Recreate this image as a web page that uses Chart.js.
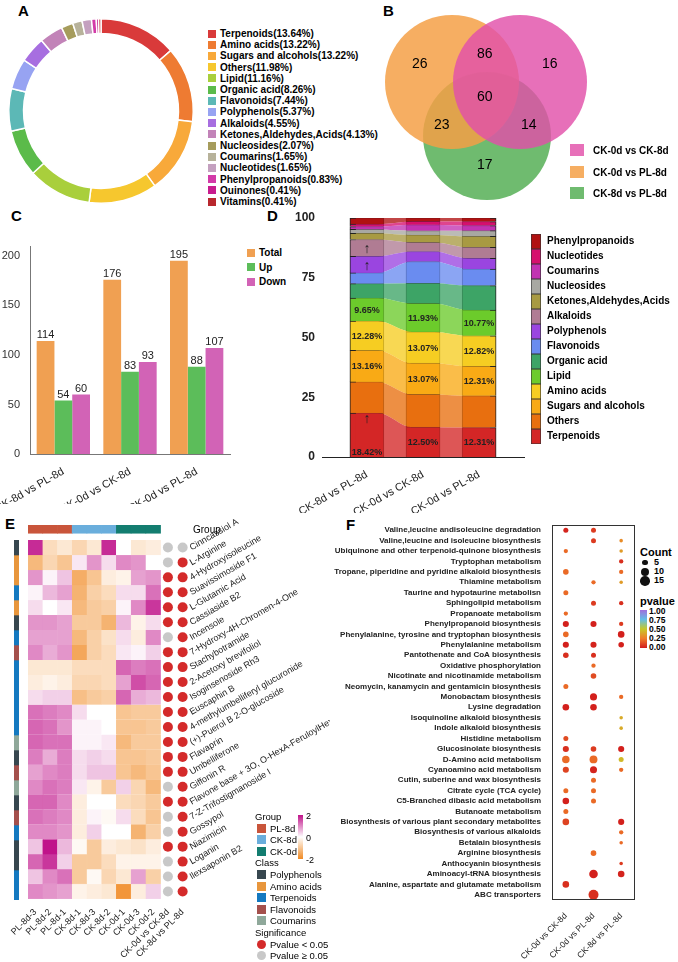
<!DOCTYPE html>
<html><head><meta charset="utf-8">
<script src="https://cdn.jsdelivr.net/npm/chart.js@4"></script>
<style>
body{margin:0;background:#fff;font-family:"Liberation Sans",Arial,sans-serif;}
#wrap{position:relative;width:678px;height:962px;overflow:hidden;}
canvas,.abs{position:absolute;}
.pl{position:absolute;font-weight:bold;font-size:15px;}
.lg{position:absolute;font-size:10px;font-weight:bold;line-height:11.2px;white-space:nowrap;}
.lg span{display:inline-block;width:8px;height:8px;margin-right:4px;vertical-align:-0.5px;}
.vn{position:absolute;font-size:14px;}
</style></head><body><div id="wrap">
<div class="pl" style="left:18px;top:2px">A</div>
<div class="pl" style="left:383px;top:2px">B</div>
<div class="pl" style="left:11px;top:207px">C</div>
<div class="pl" style="left:267px;top:207px">D</div>
<div class="pl" style="left:5px;top:515px">E</div>
<div class="pl" style="left:346px;top:516px">F</div>

<canvas id="donut" width="190" height="190" style="left:6px;top:16px"></canvas>
<div id="legA" class="lg" style="left:208px;top:28px"></div>

<canvas id="venn" width="220" height="210" style="left:380px;top:0"></canvas>
<div id="vennNums"></div>
<div id="legB" class="lg" style="left:570px;top:140px;font-size:10px;line-height:21.5px"></div>

<canvas id="barC" width="232" height="268" style="left:0;top:236px"></canvas>
<div id="legC" class="lg" style="left:247px;top:246px;line-height:14.5px;font-size:10px"></div>

<canvas id="areaD" width="236" height="305" style="left:290px;top:208px"></canvas>
<div id="legD" class="abs" style="left:531px;top:234px"></div>

<canvas id="heatE" width="330" height="447" style="left:0;top:515px"></canvas>
<canvas id="classE" width="5" height="360" style="left:14px;top:540px"></canvas>
<div class="lg" style="left:193px;top:524px;font-size:10px;font-weight:normal">Group</div>
<div id="legE" class="abs" style="left:255px;top:811px;font-size:9.5px;line-height:11.6px"></div>

<canvas id="dotF" width="340" height="447" style="left:300px;top:515px"></canvas>
<div id="legF" class="abs" style="left:640px;top:546px;font-size:9px;font-weight:bold"></div>
</div>
<script>
// ---- A: class composition
const classNames = ['Terpenoids','Amino acids','Sugars and alcohols','Others','Lipid','Organic acid','Flavonoids','Polyphenols','Alkaloids','Ketones,Aldehydes,Acids','Nucleosides','Coumarins','Nucleotides','Phenylpropanoids','Ouinones','Vitamins'];
const classPct = [13.64,13.22,13.22,11.98,11.16,8.26,7.44,5.37,4.55,4.13,2.07,1.65,1.65,0.83,0.41,0.41];
const classColors = ['#d93a3a','#ee7b32','#f8a93a','#f6c72e','#a9cf3c','#5bbb4a','#5cb8b6','#97a3f2','#a76ee0','#c283b8','#a69c5c','#b7b29a','#c4a0bf','#d33aa8','#c81c8e','#b8282e'];

// ---- B: venn
const vennSets = ['CK-0d vs CK-8d','CK-0d vs PL-8d','CK-8d vs PL-8d'];
const vennColors = ['rgba(226,80,170,0.82)','rgba(245,160,70,0.85)','rgba(95,180,95,0.9)'];
const vennRegions = ['26','86','16','60','23','14','17'];

// ---- C: DEM counts
const compLabels = ['CK-8d vs PL-8d','CK-0d vs CK-8d','CK-0d vs PL-8d'];
const totalCounts = [114,176,195];
const upCounts = [54,83,88];
const downCounts = [60,93,107];

// ---- D: class percentage per comparison (bottom to top)
const dClasses = ['Terpenoids','Others','Sugars and alcohols','Amino acids','Lipid','Organic acid','Flavonoids','Polyphenols','Alkaloids','Ketones,Aldehydes,Acids','Nucleosides','Coumarins','Nucleotides','Phenylpropanoids'];
const dColors = ['#d42626','#e8700f','#f8aa16','#f6cd22','#6ccb2c','#3da466','#6a8cf0','#9a45e0','#b07c94','#a89a42','#a8a8a2','#c233b2','#d6106e','#b01212'];
const dComp1 = [18.42,13.0,13.16,12.28,9.65,6.0,4.5,7.0,7.0,2.6,1.6,1.2,1.0,2.59];
const dComp2 = [12.5,13.7,13.07,13.07,11.93,8.4,9.1,4.2,3.8,3.1,1.8,2.5,1.4,1.43];
const dComp3 = [12.31,13.3,12.31,12.82,10.77,10.2,6.9,4.5,4.6,4.6,2.4,2.1,1.7,1.49];
const dLabels1 = ['↑\n18.42%',null,'13.16%','12.28%','9.65%',null,null,'↑','↑',null,null,null,null,null];
const dLabels2 = ['12.50%',null,'13.07%','13.07%','11.93%',null,null,null,null,null,null,null,null,null];
const dLabels3 = ['12.31%',null,'12.31%','12.82%','10.77%',null,null,null,null,null,null,null,null,null];

// ---- E: heatmap (z-score)
const sampleLabels = ['PL-8d-3','PL-8d-2','PL-8d-1','CK-8d-1','CK-8d-3','CK-8d-2','CK-0d-1','CK-0d-3','CK-0d-2'];
const sigLabels = ['CK-0d vs CK-8d','CK-8d vs PL-8d'];
const metabolites = ['Cinncassiol A','L-Arginine','4-Hydroxyisoleucine','Suavissimoside F1','L-Glutamic Acid','Cassiaside B2','Incensole','7-Hydroxy-4H-Chromen-4-One','Stachybotramide','2-Acetoxy brevifoliol','Isoginsenoside Rh3','Euscaphin B','4-methylumbelliferyl glucuronide','(+)-Puerol B 2-O-glucoside','Flavaprin','Umbelliferone','Giffonin R','Flavone base + 3O, O-HexA-FeruloylHexA','7-Z-Trifostigmanoside I','Gossypol','Niazimicin','Loganin','Ilexsaponin B2'];
const heatRows = [
 [1.8,-0.6,-0.4,-0.7,-0.4,1.8,0,-0.4,-0.3],
 [-1.2,-0.7,-1.0,0.2,0.9,0.3,1.0,0.9,0],
 [0.9,0.1,0.5,-1.4,-1.0,-0.3,-0.2,0.8,0.9],
 [0.1,0.6,0.8,-1.3,-0.8,-0.6,0.3,0.3,1.2],
 [0.3,0.0,0.2,-1.2,-0.9,-0.8,0.1,1.0,1.7],
 [0.9,0.9,0.8,-0.9,-0.9,-1.3,0.6,-0.2,0.3],
 [0.8,0.8,0.8,-1.2,-0.8,-0.5,0.3,-0.3,1.0],
 [1.0,0.7,0.9,-1.5,-0.8,-0.6,0.2,0.1,0.4],
 [-0.4,-0.4,-0.4,-0.6,-0.6,-0.6,1.3,1.1,1.2],
 [-0.3,-0.2,-0.3,-0.7,-0.7,-0.6,0.8,1.5,1.3],
 [0.3,0.4,0.4,-1.1,-0.9,-0.8,1.3,0.7,0.6],
 [1.2,1.1,1.0,0.3,0,0,-1.0,-0.9,-0.9],
 [1.3,1.2,0.9,0.1,0.1,0,-1.0,-1.0,-0.9],
 [1.3,1.2,1.2,0.1,0.1,0.2,-1.2,-0.9,-0.9],
 [1.1,0.7,1.1,0.3,0.4,0.3,-1.0,-1.0,-0.9],
 [0.8,1.0,1.1,0.3,0.5,0.5,-1.0,-1.2,-1.0],
 [1.0,1.2,1.1,0.2,-0.2,-0.9,0.4,-0.7,-1.2],
 [1.3,1.3,1.0,-0.3,0,0,-0.6,-0.7,-0.9],
 [1.2,1.1,1.0,-0.3,0.1,-0.1,0.3,-0.6,-1.0],
 [1.0,1.0,0.9,-0.3,0.4,0,0,-1.3,-0.8],
 [0.5,2.3,0.6,-0.1,-0.9,-0.3,-0.4,-0.5,-0.3],
 [1.3,1.7,0.4,-0.9,-0.9,-0.6,-0.2,-0.2,-0.2],
 [0.5,1.0,1.2,-0.9,-0.1,-0.7,-0.4,0.8,-0.8],
 [1.0,0.9,0.8,-0.2,-0.3,-0.4,-1.8,-0.3,0.4]
];
const sigCK0CK8 = [0,0,1,1,1,1,0,1,1,1,1,1,1,1,1,1,0,1,0,0,1,0,0,0];
const sigCK8PL8 = [0,1,1,1,1,1,1,1,1,1,1,1,1,1,1,1,1,1,1,1,1,1,1,1];
const groupOfSample = ['PL-8d','PL-8d','PL-8d','CK-8d','CK-8d','CK-8d','CK-0d','CK-0d','CK-0d'];
const groupColors = {'PL-8d':'#c9553b','CK-8d':'#6aaedc','CK-0d':'#137d70'};
const rowClass = ['Polyphenols','Amino acids','Amino acids','Terpenoids','Amino acids','Polyphenols','Terpenoids','Flavonoids','Terpenoids','Terpenoids','Terpenoids','Terpenoids','Terpenoids','Coumarins','Polyphenols','Flavonoids','Coumarins','Polyphenols','Flavonoids','Terpenoids','Polyphenols','Polyphenols','Terpenoids','Terpenoids'];
const classColorsE = {'Polyphenols':'#37474f','Amino acids':'#e8963c','Terpenoids':'#1479c0','Flavonoids':'#a4504c','Coumarins':'#8fa89a'};

// ---- F: KEGG enrichment
const fComps = ['CK-0d vs CK-8d','CK-0d vs PL-8d','CK-8d vs PL-8d'];
const pathways = ['Valine,leucine andisoleucine degradation','Valine,leucine and isoleucine biosynthesis','Ubiquinone and other terpenoid-quinone biosynthesis','Tryptophan metabolism','Tropane, piperidine and pyridine alkaloid biosynthesis','Thiamine metabolism','Taurine and hypotaurine metabolisn','Sphingolipid metabolism','Propanoate metabolism','Phenylpropanoid biosynthesis','Phenylalanine, tyrosine and tryptophan biosynthesis','Phenylalanine metabolism','Pantothenate and CoA biosynthesis','Oxidative phosphorylation','Nicotinate and nicotinamide metabolism','Neomycin, kanamycin and gentamicin biosynthesis','Monobactam biosynthesis','Lysine degradation','Isoquinoline alkaloid biosynthesis','Indole alkaloid biosynthesis','Histidine metabolism','Glucosinolate biosynthesis','D-Amino acid metabolism','Cyanoamino acid metabolism','Cutin, suberine and wax biosynthesis','Citrate cycle (TCA cycle)','C5-Branched dibasic acid metabolism','Butanoate metabolism','Biosynthesis of various plant secondary metabolites','Biosynthesis of various alkaloids','Betalain biosynthesis','Arginine biosynthesis','Anthocyanin biosynthesis','Aminoacyl-tRNA biosynthesis','Alanine, aspartate and glutamate metabolism','ABC transporters'];
const count1 = [4,null,3,null,5,null,4,null,3,6,5,6,5,null,null,4,null,7,null,null,4,6,9,6,null,4,7,4,7,null,null,null,null,null,7,null];
const count2 = [4,4,null,null,null,3,null,4,null,6,null,6,4,3,5,null,8,7,null,null,null,5,10,8,4,4,4,null,null,null,null,5,null,12,null,16];
const count3 = [null,2,2,3,3,2,null,3,null,3,7,5,null,null,null,null,3,null,2,2,null,6,4,3,null,null,null,null,6,3,2,null,2,7,null,null];
const pval1 = [0.02,null,0.2,null,0.2,null,0.2,null,0.2,0.01,0.2,0.01,0.05,null,null,0.2,null,0.01,null,null,0.12,0.05,0.2,0.1,null,0.2,0.01,0.2,0.1,null,null,null,null,null,0.05,null];
const pval2 = [0.08,0.08,null,null,null,0.2,null,0.08,null,0.01,null,0.02,0.05,0.2,0.12,null,0.01,0.01,null,null,null,0.08,0.2,0.02,0.2,0.2,0.2,null,null,null,null,0.2,null,0.01,null,0.05];
const pval3 = [null,0.3,0.35,0.05,0.2,0.35,null,0.05,null,0.08,0.01,0.01,null,null,null,null,0.2,null,0.4,0.4,null,0.01,0.45,0.2,null,null,null,null,0.01,0.2,0.2,null,0.08,0.02,null,null];

const FONT = '"Liberation Sans", Arial, sans-serif';
Chart.defaults.font.family = FONT;
Chart.defaults.color = '#222';
Chart.defaults.animation = false;
Chart.defaults.responsive = false;
Chart.defaults.plugins.legend.display = false;
Chart.defaults.plugins.tooltip.enabled = false;

function lerpColor(stops, t) {
  for (let i = 1; i < stops.length; i++) {
    if (t <= stops[i][0] || i === stops.length - 1) {
      const [t0, c0] = stops[i-1], [t1, c1] = stops[i];
      const f = Math.max(0, Math.min(1, (t - t0) / (t1 - t0)));
      const rgb = c0.map((v, k) => Math.round(v + (c1[k] - v) * f));
      return `rgb(${rgb.join(',')})`;
    }
  }
}
const heatStops = [[-2,[240,138,36]],[0,[255,255,255]],[2,[192,19,138]]];
const pStops = [[0,[210,28,28]],[0.25,[240,125,40]],[0.5,[200,200,40]],[0.75,[100,190,230]],[1,[160,110,220]]];
// rotated tick labels should not push the plot inward
const noSidePad = s => { s.paddingLeft = 0; s.paddingRight = 0; };

// ===== A
new Chart(document.getElementById('donut'), {
  type: 'doughnut',
  data: { labels: classNames, datasets: [{ data: classPct, backgroundColor: classColors, borderColor: '#fff', borderWidth: 1.5 }] },
  options: { cutout: '84%', layout: { padding: 2 } }
});
document.getElementById('legA').innerHTML = classNames.map((n, i) =>
  `<div><span style="background:${classColors[i]}"></span>${n}(${classPct[i].toFixed(2)}%)</div>`).join('');

// ===== B
new Chart(document.getElementById('venn'), {
  type: 'bubble',
  data: { datasets: [
    { data: [{x:140, y:82, r:67}], backgroundColor: vennColors[0], borderWidth: 0 },
    { data: [{x:72, y:82, r:67}], backgroundColor: vennColors[1], borderWidth: 0 },
    { data: [{x:107, y:136, r:64}], backgroundColor: vennColors[2], borderWidth: 0 }
  ]},
  options: { layout: { padding: 0, autoPadding: false }, clip: false,
    scales: { x: { display: false, min: 0, max: 220 }, y: { display: false, min: 0, max: 210, reverse: true } } }
});
const vennPos = [[412,55],[477,45],[542,55],[477,88],[434,116],[521,116],[477,156]];
document.getElementById('vennNums').innerHTML = vennRegions.map((t, i) =>
  `<div class="vn" style="left:${vennPos[i][0]}px;top:${vennPos[i][1]}px">${t}</div>`).join('');
document.getElementById('legB').innerHTML = vennSets.map((n, i) =>
  `<div><span style="width:14px;height:12px;background:${vennColors[i]};vertical-align:-2px;margin-right:9px"></span>${n}</div>`).join('');

// ===== C
const valueLabels = {
  id: 'valueLabels',
  afterDatasetsDraw(chart) {
    const ctx = chart.ctx;
    ctx.save(); ctx.font = '11px ' + FONT; ctx.fillStyle = '#222'; ctx.textAlign = 'center';
    chart.data.datasets.forEach((ds, di) => {
      chart.getDatasetMeta(di).data.forEach((el, i) => ctx.fillText(ds.data[i], el.x, el.y - 3));
    });
    ctx.restore();
  }
};
const cColors = ['#f0a052','#5cbd5a','#d263b6'];
new Chart(document.getElementById('barC'), {
  type: 'bar',
  data: { labels: compLabels, datasets: [
    { label: 'Total', data: totalCounts, backgroundColor: cColors[0] },
    { label: 'Up', data: upCounts, backgroundColor: cColors[1] },
    { label: 'Down', data: downCounts, backgroundColor: cColors[2] }
  ]},
  options: {
    layout: { padding: { top: 10, right: 2 } },
    datasets: { bar: { barPercentage: 1, categoryPercentage: 0.8 } },
    scales: {
      x: { grid: { display: false }, border: { color: '#777' },
        ticks: { minRotation: 30, maxRotation: 30, font: { size: 11 }, color: '#222' },
        afterFit: s => { s.height = 50; noSidePad(s); } },
      y: { min: 0, max: 210, grid: { display: false }, border: { color: '#777' },
        afterBuildTicks: s => { s.ticks = [0,50,100,150,200].map(v => ({ value: v })); },
        ticks: { font: { size: 11 }, color: '#333', padding: 2 },
        afterFit: s => { s.width = 30; } }
    }
  },
  plugins: [valueLabels]
});
document.getElementById('legC').innerHTML = ['Total','Up','Down'].map((n, i) =>
  `<div><span style="background:${cColors[i]}"></span>${n}</div>`).join('');

// ===== D
const dSeries = [dComp1, dComp2, dComp3];
function fade(hex, a) {
  const n = parseInt(hex.slice(1), 16);
  return `rgba(${n >> 16},${(n >> 8) & 255},${n & 255},${a})`;
}
const areaSets = dClasses.map((c, k) => ({
  type: 'line', stack: 'a', label: c,
  data: [[-0.2,0],[0.2,0],[0.8,1],[1.2,1],[1.8,2],[2.2,2]].map(([x, j]) => ({ x, y: dSeries[j][k] })),
  backgroundColor: fade(dColors[k], 0.78), borderWidth: 0, pointRadius: 0,
  fill: k === 0 ? 'origin' : '-1', cubicInterpolationMode: 'monotone'
}));
const barSets = dClasses.map((c, k) => ({
  type: 'bar', stack: 'b', label: c,
  data: [0,1,2].map(j => ({ x: j, y: dSeries[j][k] })),
  backgroundColor: dColors[k], borderColor: '#222', borderWidth: 1, barThickness: 34
}));
const dText = [dLabels1, dLabels2, dLabels3];
const pctLabels = {
  id: 'pctLabels',
  afterDatasetsDraw(chart) {
    const ctx = chart.ctx;
    ctx.save(); ctx.textAlign = 'center'; ctx.fillStyle = '#222';
    barSets.forEach((ds, k) => {
      const meta = chart.getDatasetMeta(dClasses.length + k);
      meta.data.forEach((el, j) => {
        const t = dText[j][k];
        if (!t) return;
        const mid = (el.y + el.base) / 2;
        const parts = t.split('\n');
        if (parts.length === 2) {
          ctx.font = 'bold 14px ' + FONT; ctx.fillText(parts[0], el.x, mid - 12);
          ctx.font = 'bold 9px ' + FONT; ctx.fillText(parts[1], el.x, mid + 20);
        } else if (t === '↑') {
          ctx.font = 'bold 14px ' + FONT; ctx.fillText(t, el.x, mid + 5);
        } else {
          ctx.font = 'bold 9px ' + FONT; ctx.fillText(t, el.x, mid + 3);
        }
      });
    });
    ctx.restore();
  }
};
new Chart(document.getElementById('areaD'), {
  data: { datasets: [...areaSets, ...barSets] },
  options: {
    layout: { padding: { top: 10, right: 2 } },
    scales: {
      x: { type: 'linear', min: -0.2, max: 2.2, grid: { display: false }, border: { color: '#222' },
        afterBuildTicks: s => { s.ticks = [0,1,2].map(v => ({ value: v })); },
        ticks: { callback: v => compLabels[v], minRotation: 30, maxRotation: 30, font: { size: 11 }, color: '#222' },
        afterFit: s => { s.height = 56; noSidePad(s); } },
      y: { stacked: true, min: 0, max: 100, grid: { display: false, drawTicks: true, tickLength: 6 }, border: { display: false },
        ticks: { stepSize: 25, font: { size: 12, weight: 'bold' }, color: '#222', padding: 1 },
        afterFit: s => { s.width = 32; } }
    }
  },
  plugins: [pctLabels]
});
document.getElementById('legD').innerHTML = dClasses.slice().reverse().map((n, i) => {
  const c = dColors[dClasses.length - 1 - i];
  return `<div style="position:relative;height:15px"><div style="position:absolute;left:0;top:0;width:10px;height:15px;background:${c};box-shadow:inset 0 0 0 0.6px #333"></div><div style="position:absolute;left:16px;top:1px;font-size:10px;font-weight:bold;white-space:nowrap">${n}</div></div>`;
}).join('');

// ===== E
const eLabels = [...sampleLabels, ...sigLabels];
const heatSets = heatRows.map((row, i) => ({
  type: 'bar', grouped: false,
  data: row.map(() => [i, i + 1]),
  backgroundColor: row.map(v => lerpColor(heatStops, v)),
  borderColor: row.map(v => lerpColor(heatStops, v)), borderWidth: 0.5,
  barPercentage: 1, categoryPercentage: 1
}));
const groupSet = {
  type: 'bar', grouped: false, data: sampleLabels.map(() => [-1, -0.45]),
  backgroundColor: groupOfSample.map(g => groupColors[g]), barPercentage: 1, categoryPercentage: 1
};
const sigSet = (lab, arr) => ({
  type: 'line', showLine: false,
  data: arr.map((s, i) => ({ x: lab, y: i + 0.5 })),
  pointRadius: 5, pointBorderWidth: 0,
  pointBackgroundColor: arr.map(s => s ? '#d42a2a' : '#c8c8c8')
});
const rowLabels = {
  id: 'rowLabels',
  afterDraw(chart) {
    const ctx = chart.ctx, xs = chart.scales.x, ys = chart.scales.y;
    ctx.save(); ctx.font = '9px ' + FONT; ctx.fillStyle = '#222';
    metabolites.forEach((m, i) => {
      ctx.save();
      ctx.translate(xs.getPixelForValue(10) + 9, ys.getPixelForValue(i + 0.5) + 3);
      ctx.rotate(-30 * Math.PI / 180);
      ctx.fillText(m, 0, 0);
      ctx.restore();
    });
    ctx.restore();
  }
};
new Chart(document.getElementById('heatE'), {
  data: { labels: eLabels, datasets: [groupSet, ...heatSets, sigSet(sigLabels[0], sigCK0CK8), sigSet(sigLabels[1], sigCK8PL8)] },
  options: {
    layout: { padding: { left: 28, top: 10, right: 140 } },
    scales: {
      x: { grid: { display: false }, border: { display: false },
        ticks: { autoSkip: false, minRotation: 45, maxRotation: 45, font: { size: 9 }, color: '#222', padding: 0 },
        afterFit: s => { s.height = 63; noSidePad(s); } },
      y: { display: false, min: -1, max: 24, reverse: true }
    }
  },
  plugins: [rowLabels]
});
new Chart(document.getElementById('classE'), {
  type: 'bar',
  data: { labels: ['c'], datasets: rowClass.map((c, i) => ({ data: [[i, i + 1]], backgroundColor: classColorsE[c], grouped: false, barPercentage: 1, categoryPercentage: 1 })) },
  options: { layout: { padding: 0 }, scales: { x: { display: false }, y: { display: false, min: 0, max: 24, reverse: true } } }
});
const sq = c => `<span style="display:inline-block;width:9px;height:9px;background:${c};margin:0 4px 0 2px;vertical-align:-1px"></span>`;
const dot = c => `<span style="display:inline-block;width:9px;height:9px;border-radius:50%;background:${c};margin:0 4px 0 2px;vertical-align:-1px"></span>`;
document.getElementById('legE').innerHTML =
  `<div style="position:absolute;left:43px;top:4px;width:5px;height:44px;background:linear-gradient(#c0138a,#fff,#f08a24)"></div>
   <div style="position:absolute;left:51px;top:0;font-size:9px;line-height:11px">2<br><br>0<br><br>-2</div>
   <div>Group</div>` +
  Object.keys(groupColors).map(g => `<div>${sq(groupColors[g])}${g}</div>`).join('') +
  `<div>Class</div>` + Object.keys(classColorsE).map(c => `<div>${sq(classColorsE[c])}${c}</div>`).join('') +
  `<div>Significance</div><div>${dot('#d42a2a')}Pvalue &lt; 0.05</div><div>${dot('#c8c8c8')}Pvalue ≥ 0.05</div>`;

// ===== F
const fCounts = [count1, count2, count3], fP = [pval1, pval2, pval3];
const fSets = fComps.map((c, j) => ({
  data: pathways.map((p, i) => fCounts[j][i] == null ? null : { x: c, y: p, r: Math.sqrt(fCounts[j][i]) * 1.25 }).filter(d => d),
  backgroundColor: pathways.map((p, i) => fCounts[j][i] == null ? null : lerpColor(pStops, fP[j][i])).filter(d => d),
  borderWidth: 0
}));
const frame = {
  id: 'frame',
  afterDraw(chart) {
    const a = chart.chartArea, ctx = chart.ctx;
    ctx.save(); ctx.strokeStyle = '#333'; ctx.lineWidth = 1;
    ctx.strokeRect(a.left + 0.5, a.top + 0.5, a.right - a.left - 1, a.bottom - a.top - 1);
    ctx.restore();
  }
};
new Chart(document.getElementById('dotF'), {
  type: 'bubble',
  data: { datasets: fSets },
  options: {
    clip: false,
    layout: { padding: { top: 10, right: 5 }, autoPadding: false },
    scales: {
      x: { type: 'category', labels: fComps, offset: true, grid: { display: false }, border: { display: false },
        ticks: { minRotation: 45, maxRotation: 45, font: { size: 8.5 }, color: '#222' },
        afterFit: s => { s.height = 62; noSidePad(s); } },
      y: { type: 'category', labels: pathways, offset: true, grid: { display: false }, border: { display: false },
        ticks: { autoSkip: false, font: { size: 8, weight: 'bold' }, color: '#222', padding: 3 },
        afterFit: s => { s.width = 252; } }
    }
  },
  plugins: [frame]
});
document.getElementById('legF').innerHTML =
  `<div style="font-size:11px">Count</div>` +
  [5,10,15].map(n => { const r = Math.sqrt(n) * 1.25; return `<div style="height:9px;line-height:9px"><span style="display:inline-block;width:${2*r}px;height:${2*r}px;border-radius:50%;background:#111;margin-left:${5-r}px;margin-right:${5-r+4}px;vertical-align:middle"></span>${n}</div>`; }).join('') +
  `<div style="font-size:11px;margin-top:10px">pvalue</div>
   <div style="position:relative;height:45px"><div style="position:absolute;left:0;top:3px;width:7px;height:38px;background:linear-gradient(#a06edc,#64bee6,#c8c828,#f07d28,#d21c1c)"></div>
   <div style="position:absolute;left:9px;top:0;font-size:8.5px;line-height:9px">1.00<br>0.75<br>0.50<br>0.25<br>0.00</div></div>`;
</script></body></html>
